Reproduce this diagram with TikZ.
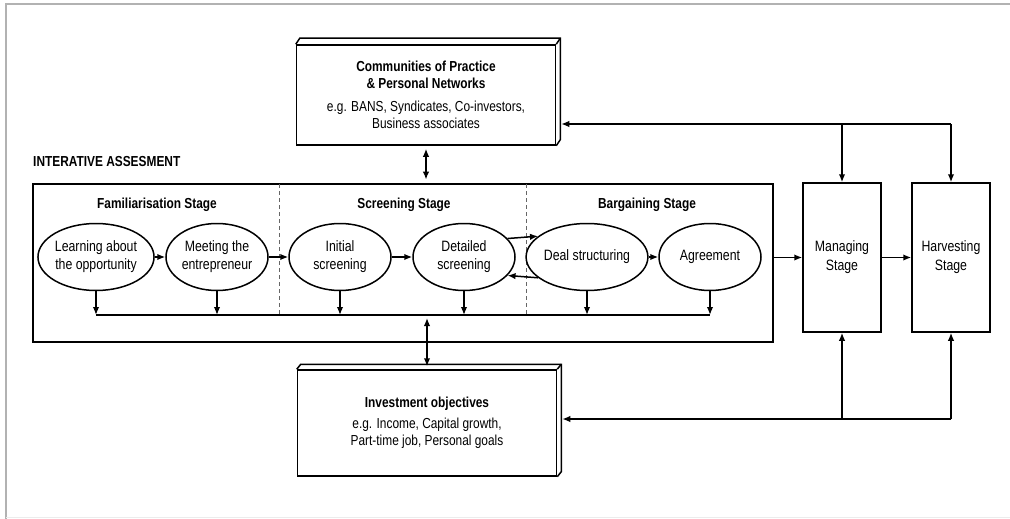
\documentclass[tikz,border=0pt]{standalone}
\usepackage{fontspec}
\setmainfont{Liberation Sans}[FakeStretch=0.82]
\usetikzlibrary{arrows.meta}
\usetikzlibrary{shapes}
\usetikzlibrary{calc}

\tikzset{
  >={Latex[length=8pt,width=6.5pt]},
  link/.style={line width=1.5pt},
  stagetitle/.style={font=\bfseries\fontsize{14.5}{17}\selectfont},
  activity/.style={ellipse, draw, line width=1.5pt, minimum width=102, minimum height=67,
    inner sep=0pt, align=center, font=\fontsize{15}{18}\selectfont},
  phasebox/.style={rectangle, draw, line width=1.5pt, minimum width=78, minimum height=149,
    align=center, font=\fontsize{15}{19}\selectfont},
  infobox/.style={rectangle, draw, line width=1.5pt, minimum width=259, minimum height=100,
    align=center, font=\fontsize{14.5}{17.5}\selectfont},
  divider/.style={line width=1pt, gray!80!black, dash pattern=on 4pt off 3pt},
}

\begin{document}
\begin{tikzpicture}[x=1pt,y=-1pt]
  \useasboundingbox (0,0) rectangle (1010,519);
  % page frame
  \draw[gray!60, line width=1.6pt] (1012,4) -- (6,4) -- (6,521);
  \draw[gray!15, line width=1pt] (6,517) -- (1012,517);

  % assessment block
  \node[anchor=west, inner sep=0pt, font=\bfseries\fontsize{14.5}{17}\selectfont] (iatitle) at (33,162) {INTERATIVE ASSESMENT};
  \node[draw, line width=2.8pt, minimum width=740, minimum height=158] (assess) at (403,263) {};
  \coordinate (collect) at (0,315);

  \node[stagetitle] (famtitle) at (157,205) {Familiarisation Stage};
  \node[stagetitle] (scrtitle) at (404,205) {Screening Stage};
  \node[stagetitle] (bartitle) at (647,205) {Bargaining Stage};

  \draw[divider] (279,184) -- (279,315);
  \draw[divider] (526,184) -- (526,315);

  \node[activity] (learn) at (96,257) {Learning about\\the opportunity};
  \node[activity] (meet) at (217,257) {Meeting the\\entrepreneur};
  \node[activity] (initial) at (340,257) {Initial\\screening};
  \node[activity] (detailed) at (464,257) {Detailed\\screening};
  \node[activity] (deal) at (587,257) {Deal structuring};
  \node[activity] (agree) at (710,257) {Agreement};

  \draw[link,->] (learn) -- (meet);
  \draw[link,->] (meet) -- (initial);
  \draw[link,->] (initial) -- (detailed);
  \draw[link,->] (detailed.23) -- (deal.157);
  \draw[link,->] (deal.203) -- (detailed.337);
  \draw[link,->] (deal) -- (agree);

  \foreach \n in {learn,meet,initial,detailed,deal,agree}
    \draw[link,->] (\n.south) -- (\n.south |- collect);
  \draw[link] (learn.south |- collect) -- (agree.south |- collect);

  % outside boxes
  \node[infobox] (cop) at (426,95) {\textbf{Communities of Practice}\\
    \textbf{\& Personal Networks}\\[5pt]
    e.g. BANS, Syndicates, Co-investors,\\Business associates};
  \draw[link] (cop.north west) -- ++(4,-6) -- ($(cop.north east)+(4,-6)$)
    -- ($(cop.south east)+(4,-6)$) -- (cop.south east);
  \draw[link] (cop.north east) -- ++(4,-6);

  \node[infobox, minimum height=106] (invest) at (427,423) {\textbf{Investment objectives}\\[3pt]
    e.g. Income, Capital growth,\\Part-time job, Personal goals};
  \draw[link] (invest.north west) -- ++(4,-5) -- ($(invest.north east)+(4,-5)$)
    -- ($(invest.south east)+(4,-5)$) -- (invest.south east);
  \draw[link] (invest.north east) -- ++(4,-5);

  \draw[link,<->,shorten <=3pt,shorten >=3pt] (cop.south) -- (cop.south |- assess.north);
  \draw[link,<->,shorten <=3pt,shorten >=3pt] (invest.north |- collect) -- (invest.north);

  \node[phasebox] (managing) at (842,257.5) {Managing\\Stage};
  \node[phasebox] (harvesting) at (951,257.5) {Harvesting\\Stage};

  \draw[link,->] (assess.east |- managing.west) -- (managing.west);
  \draw[link,->] (managing) -- (harvesting);

  \coordinate (topline) at (0,124);
  \coordinate (botline) at (0,419);
  \draw[link,->] (harvesting.north |- topline) -- ($(cop.east |- topline)+(5,0)$);
  \draw[link,->] (managing.north |- topline) -- (managing.north);
  \draw[link,->] (harvesting.north |- topline) -- (harvesting.north);
  \draw[link,->] (harvesting.south |- botline) -- ($(invest.east |- botline)+(5,0)$);
  \draw[link,->] (managing.south |- botline) -- (managing.south);
  \draw[link,->] (harvesting.south |- botline) -- (harvesting.south);
\end{tikzpicture}
\end{document}
